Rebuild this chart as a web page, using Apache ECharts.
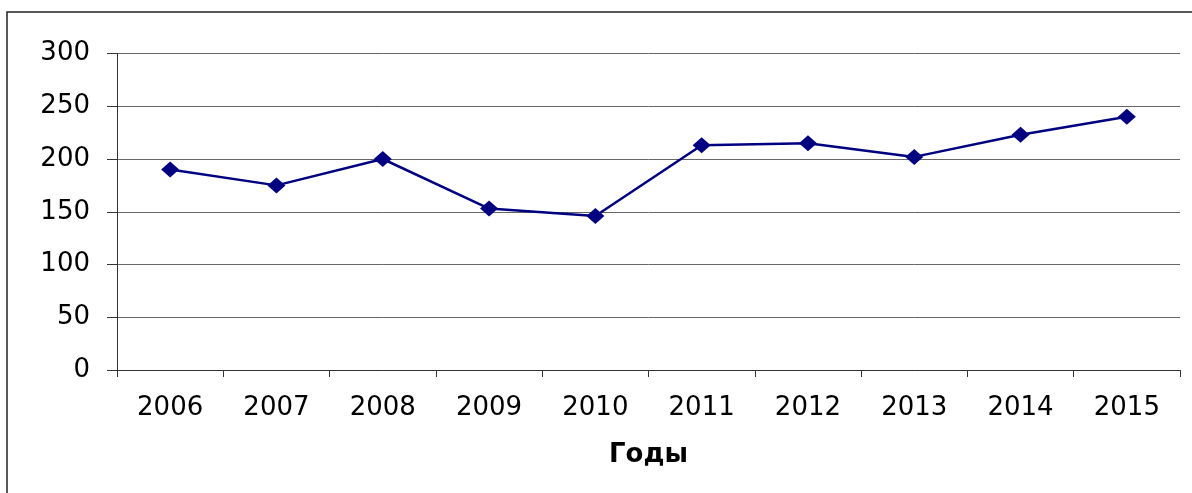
<!DOCTYPE html>
<html>
<head>
<meta charset="utf-8">
<script src="https://cdn.jsdelivr.net/npm/echarts@6/dist/echarts.min.js"></script>
<style>
html,body{margin:0;padding:0;background:#fff;}
#c{width:1192px;height:493px;}
</style>
</head>
<body>
<div id="c"></div>
<script>
const years = ['2006','2007','2008','2009','2010','2011','2012','2013','2014','2015'];
const values = [190, 175, 200, 153, 146, 213, 215, 202, 223, 240];
const xAxisName = 'Годы';

const chart = echarts.init(document.getElementById('c'), null, {renderer: 'canvas'});
const font = 'DejaVu Sans';
chart.setOption({
  animation: false,
  backgroundColor: '#fff',
  grid: {left: 117, right: 12, top: 53.5, bottom: 123, containLabel: false},
  graphic: [{
    type: 'rect', silent: true, z: -1,
    shape: {x: 7, y: 12, width: 1200, height: 500},
    style: {fill: 'none', stroke: '#222', lineWidth: 1.5}
  }],
  xAxis: {
    type: 'category',
    data: years,
    boundaryGap: true,
    name: xAxisName,
    nameLocation: 'middle',
    nameGap: 72,
    nameTextStyle: {fontFamily: font, fontSize: 26, fontWeight: 'bold', color: '#000'},
    axisLine: {lineStyle: {color: '#333', width: 1}},
    axisTick: {show: true, length: 7, alignWithLabel: false, lineStyle: {color: '#333'}},
    axisLabel: {fontFamily: font, fontSize: 26, color: '#000', margin: 25, interval: 0},
    splitLine: {show: false}
  },
  yAxis: {
    type: 'value',
    min: 0, max: 300, interval: 50,
    axisLine: {show: true, lineStyle: {color: '#333', width: 1}},
    axisTick: {show: true, length: 10, lineStyle: {color: '#333'}},
    axisLabel: {fontFamily: font, fontSize: 26, color: '#000', margin: 27},
    splitLine: {show: true, lineStyle: {color: '#666', width: 1}}
  },
  series: [{
    type: 'line',
    data: values,
    symbol: 'diamond',
    symbolSize: [18, 16],
    lineStyle: {color: '#000080', width: 2.5},
    itemStyle: {color: '#000080'}
  }]
});
</script>
</body>
</html>
